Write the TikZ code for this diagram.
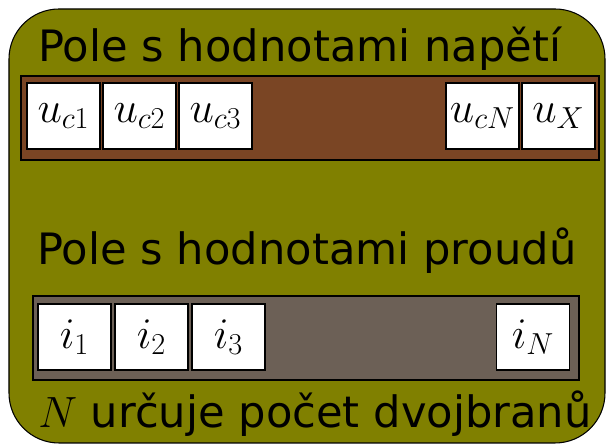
\documentclass[tikz,border=0pt]{standalone}
\usepackage{fontspec}
\newfontfamily\dejavu{DejaVu Sans}
\definecolor{panel}{RGB}{128,128,0}
\definecolor{ubar}{RGB}{122,69,36}
\definecolor{ibar}{RGB}{108,96,86}

\begin{document}
\begin{tikzpicture}[
  cell/.style={draw, line width=0.6pt, fill=white, minimum width=1.46cm, minimum height=1.32cm,
    inner sep=0pt, font=\fontsize{25}{30}\selectfont},
  bar/.style={draw, line width=0.6pt},
  title/.style={anchor=base west, inner sep=0pt, font=\dejavu\fontsize{24.6}{30}\selectfont}
]
\useasboundingbox (0,0) rectangle (12.12,8.9);

% Outer panel
\draw[line width=0.6pt, rounded corners=1cm, fill=panel] (0.18,0.04) rectangle (12.10,8.72);

% Voltage array
\node[title] (utitle) at (0.76,7.66) {Pole s hodnotami napětí};
\draw[bar, fill=ubar] (0.42,5.70) rectangle (11.98,7.38);
\node[cell] (uc1) at (1.27,6.58) {$u_{c1}$};
\node[cell] (uc2) at (2.79,6.58) {$u_{c2}$};
\node[cell] (uc3) at (4.31,6.58) {$u_{c3}$};
\node[cell] (ucN) at (9.65,6.58) {$u_{cN}$};
\node[cell] (uX) at (11.17,6.58) {$u_X$};

% Current array
\node[title] (ititle) at (0.74,3.60) {Pole s hodnotami proudů};
\draw[bar, fill=ibar] (0.66,1.30) rectangle (11.58,2.98);
\node[cell] (i1) at (1.49,2.16) {$i_1$};
\node[cell] (i2) at (3.03,2.16) {$i_2$};
\node[cell] (i3) at (4.57,2.16) {$i_3$};
\node[cell] (iN) at (10.66,2.16) {$i_N$};

% Note
\node[title] (note) at (0.76,0.34) {$N$ určuje počet dvojbranů};
\end{tikzpicture}
\end{document}
